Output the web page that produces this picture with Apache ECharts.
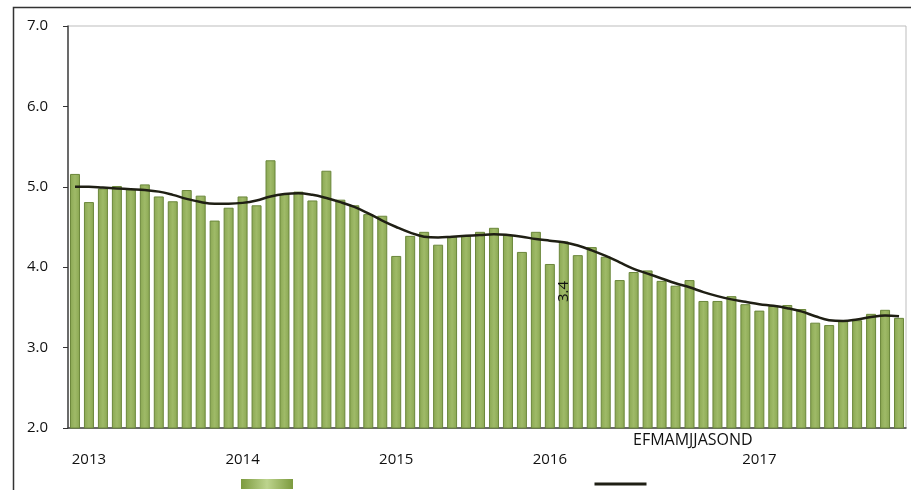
<!DOCTYPE html>
<html>
<head>
<meta charset="utf-8">
<script src="https://cdn.jsdelivr.net/npm/echarts@6/dist/echarts.min.js"></script>
<style>
  html, body { margin: 0; padding: 0; background: #fff; }
  #chart { width: 911px; height: 490px; }
</style>
</head>
<body>
<div id="chart"></div>
<script>
// datos mensuales 2013-2017
const months = []
for (let y = 2013; y <= 2017; y++) {
  for (let m = 1; m <= 12; m++) months.push(y + '-' + m)
}

const values = [
  5.16, 4.81, 4.98, 5.01, 4.97, 5.03, 4.88, 4.82, 4.96, 4.89, 4.58, 4.74,
  4.88, 4.77, 5.33, 4.91, 4.94, 4.83, 5.20, 4.84, 4.77, 4.66, 4.64, 4.14,
  4.39, 4.44, 4.28, 4.38, 4.39, 4.44, 4.49, 4.40, 4.19, 4.44, 4.04, 4.32,
  4.15, 4.25, 4.13, 3.84, 3.94, 3.96, 3.83, 3.77, 3.84, 3.58, 3.58, 3.64,
  3.54, 3.46, 3.52, 3.53, 3.48, 3.31, 3.28, 3.33, 3.34, 3.42, 3.47, 3.37
]

const trend = [
  5.00, 5.00, 4.99, 4.98, 4.97, 4.96, 4.94, 4.90, 4.85, 4.81, 4.79, 4.79,
  4.80, 4.83, 4.88, 4.91, 4.92, 4.90, 4.86, 4.81, 4.75, 4.67, 4.58, 4.50,
  4.43, 4.38, 4.37, 4.38, 4.39, 4.40, 4.41, 4.40, 4.38, 4.35, 4.33, 4.31,
  4.27, 4.21, 4.14, 4.06, 3.98, 3.92, 3.86, 3.80, 3.75, 3.69, 3.64, 3.60,
  3.57, 3.54, 3.52, 3.49, 3.45, 3.39, 3.34, 3.33, 3.35, 3.38, 3.40, 3.39
]

// etiquetas de año (posición aproximada en el eje)
const yearLabels = { 1: '2013', 12: '2014', 23: '2015', 34: '2016', 49: '2017' }
const monthLetters = 'EFMAMJJASOND'
const lastLabel = '3.4'

const chart = echarts.init(document.getElementById('chart'))

const barGrad = {
  type: 'linear', x: 0, y: 0, x2: 1, y2: 0,
  colorStops: [
    { offset: 0, color: '#8aa752' },
    { offset: 0.5, color: '#9fba68' },
    { offset: 1, color: '#8aa752' }
  ]
}

const option = {
  animation: false,
  textStyle: { fontFamily: 'Open Sans' },
  grid: {
    left: 68, right: 5, top: 26, bottom: 62,
    show: true, borderColor: '#bdbdbd', borderWidth: 1
  },
  legend: {
    left: 236, top: 474,
    itemWidth: 52, itemHeight: 10, itemGap: 300,
    formatter: () => '',
    data: [
      {
        name: 'mensual', icon: 'rect',
        itemStyle: {
          color: {
            type: 'linear', x: 0, y: 0, x2: 1, y2: 0,
            colorStops: [
              { offset: 0, color: '#7c9a3e' },
              { offset: 0.5, color: '#bdd48e' },
              { offset: 1, color: '#7c9a3e' }
            ]
          },
          borderWidth: 0
        }
      },
      {
        name: 'tendencia',
        itemStyle: { opacity: 0 },
        lineStyle: { color: '#1f1f14', width: 3 }
      }
    ]
  },
  xAxis: {
    type: 'category',
    data: months,
    boundaryGap: true,
    axisLine: { lineStyle: { color: '#444', width: 1.5 } },
    axisTick: {
      length: 5,
      interval: (i) => i % 12 === 0,
      lineStyle: { color: '#333' }
    },
    axisLabel: {
      interval: (i) => yearLabels[i] !== undefined,
      formatter: (v, i) => yearLabels[i] || '',
      margin: 24,
      fontSize: 15,
      color: '#111'
    }
  },
  yAxis: {
    type: 'value',
    min: 2, max: 7, interval: 1,
    axisLine: { show: true, lineStyle: { color: '#444', width: 1.5 } },
    axisTick: { show: true, length: 5, lineStyle: { color: '#333' } },
    splitLine: { show: false },
    axisLabel: {
      formatter: (v) => v.toFixed(1),
      fontSize: 15,
      color: '#111',
      margin: 20
    }
  },
  graphic: [
    {
      type: 'rect',
      shape: { x: 13.5, y: 7.5, width: 960, height: 540 },
      style: { fill: 'none', stroke: '#333', lineWidth: 1.5 },
      silent: true
    },
    {
      type: 'text',
      left: 633, top: 432,
      style: { text: monthLetters, fontSize: 16, fill: '#111', fontFamily: 'Open Sans' }
    },
    {
      type: 'text',
      x: 556, y: 302,
      rotation: Math.PI / 2,
      style: { text: lastLabel, fontSize: 15, fill: '#111', fontFamily: 'Open Sans' },
      z: 100
    }
  ],
  series: [
    {
      name: 'mensual',
      type: 'bar',
      data: values,
      barWidth: 10,
      itemStyle: { color: barGrad, borderColor: '#6b873b', borderWidth: 1 }
    },
    {
      name: 'tendencia',
      type: 'line',
      data: trend,
      smooth: 0.4,
      symbol: 'none',
      lineStyle: { color: '#1f1f14', width: 2.5 },
      z: 5
    }
  ]
}

chart.setOption(option)
</script>
</body>
</html>
